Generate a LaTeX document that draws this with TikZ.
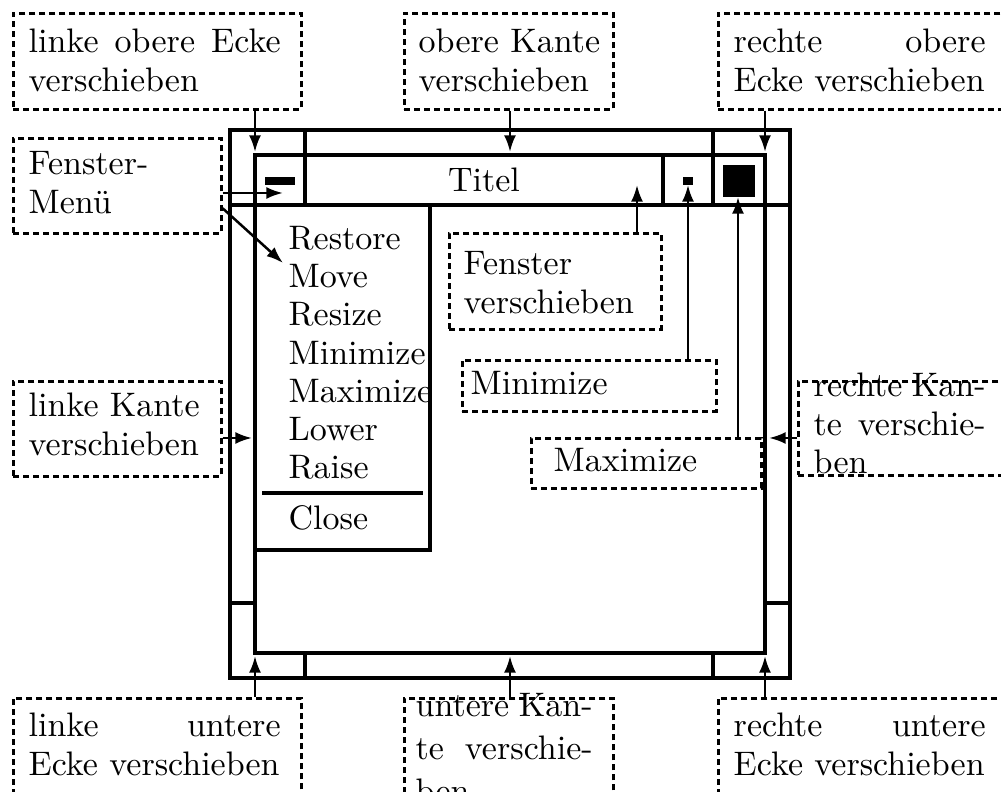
\documentclass[tikz,border=0pt]{standalone}
\usetikzlibrary{arrows.meta}
\newcommand\lblbox[5]{\node[lblbox, minimum width={(#4-#2)*0.3pt}, minimum height={(#5-#3)*0.3pt}] (#1) at (#2,#3) {};}
\begin{document}
\begin{tikzpicture}[x=0.3pt,y=-0.3pt,
  frame/.style={line width=0.95pt},
  lblbox/.style={draw, line width=0.8pt, dash pattern=on 1.8pt off 1.2pt, inner sep=0pt, anchor=north west},
  lbltext/.style={inner sep=0pt, anchor=base west, align=left, font=\fontsize{10.2}{11.5}\selectfont},
  arr/.style={line width=0.75pt, -{Latex[length=5pt,width=3.6pt]}},
]
\useasboundingbox (0,0) rectangle (1001,792);
\clip (0,0) rectangle (1001,792);

% window frame
\draw[frame] (230,130) rectangle (790,678);
\draw[frame] (255,155) rectangle (765,653);
\draw[frame] (230,205) -- (790,205);
\draw[frame] (305,130) -- (305,205);
\draw[frame] (713,130) -- (713,205);
\draw[frame] (663,155) -- (663,205);
\draw[frame] (230,603) -- (255,603) (765,603) -- (790,603);
\draw[frame] (305,653) -- (305,678) (713,653) -- (713,678);
% menu
\draw[frame] (255,205) rectangle (430,550);
\draw[frame] (262,493) -- (423,493);
\fill (265,177) rectangle (295,185);
\fill (683,177) rectangle (693,185);
\fill (723,165) rectangle (755,197);

\node[lbltext, anchor=base] (titel) at (484,192) {Titel};
\foreach \t/\y [count=\i] in {Restore/250,Move/288,Resize/326,Minimize/365,Maximize/403,Lower/441,Raise/479,Close/530}
  \node[lbltext] (m\i) at (288,\y) {\t};

% targets
\coordinate (tTL) at (255,152);
\coordinate (tT) at (510,152);
\coordinate (tTR) at (765,152);
\coordinate (tBL) at (255,656);
\coordinate (tB) at (510,656);
\coordinate (tBR) at (765,656);
\coordinate (tL) at (252,438);
\coordinate (tR) at (769,438);
\coordinate (tMenu) at (283,193);
\coordinate (tMove) at (283,263);
\coordinate (tTitle) at (637,185);
\coordinate (tMin) at (688,185);
\coordinate (tMax) at (738,197);

% label boxes
\lblbox{b1}{12}{12}{300}{108}
\lblbox{b2}{403}{12}{612}{108}
\lblbox{b3}{717}{12}{1005}{108}
\lblbox{bFM}{12}{137}{220}{232}
\lblbox{bFV}{448}{232}{660}{328}
\lblbox{bMin}{461}{359}{715}{410}
\lblbox{bMax}{530}{437}{760}{487}
\lblbox{bLK}{12}{380}{220}{475}
\lblbox{bRK}{797}{380}{1005}{474}
\lblbox{bBL}{12}{697}{300}{800}
\lblbox{bB}{403}{697}{612}{800}
\lblbox{bBR}{717}{697}{1005}{800}

% label texts
\node[lbltext, text width=75.6pt] (t1) at (28,53) {linke\hfill obere\hfill Ecke\\verschieben};
\node[lbltext, text width=56pt] (t2) at (418,53) {obere Kante\\verschieben};
\node[lbltext, text width=75.6pt] (t3) at (733,53) {rechte\hfill obere\\Ecke verschieben};
\node[lbltext, text width=52pt] (tFM) at (28,175) {Fenster-\\Menü};
\node[lbltext, text width=56pt] (tFV) at (463,275) {Fenster\\verschieben};
\node[lbltext] (tMinT) at (470,395) {Minimize};
\node[lbltext] (tMaxT) at (553,472) {Maximize};
\node[lbltext, text width=56pt] (tLK) at (28,417) {linke Kante\\verschieben};
\node[lbltext, text width=51.6pt] (tRK) at (813,397) {rechte\hfill Kan-\\te\hfill verschie-\\ben};
\node[lbltext, text width=75.6pt] (tBL2) at (28,737) {linke\hfill untere\\Ecke verschieben};
\node[lbltext, text width=53.1pt, font=\fontsize{10.2}{12.9}\selectfont] (tB2) at (415,717) {untere\hfill Kan-\\te\hfill verschie-\\ben};
\node[lbltext, text width=75.6pt] (tBR2) at (733,737) {rechte\hfill untere\\Ecke verschieben};

% arrows
\draw[arr] (b1.south -| tTL) -- (tTL);
\draw[arr] (b2.south -| tT) -- (tT);
\draw[arr] (b3.south -| tTR) -- (tTR);
\draw[arr] (bBL.north -| tBL) -- (tBL);
\draw[arr] (bB.north -| tB) -- (tB);
\draw[arr] (bBR.north -| tBR) -- (tBR);
\draw[arr] (bLK.east |- tL) -- (tL);
\draw[arr] (bRK.west |- tR) -- (tR);
\draw[arr] (bFM.east |- tMenu) -- (tMenu);
\draw[arr] ([yshift=-6.75pt]bFM.east) -- (tMove);
\draw[arr] (bFV.north -| tTitle) -- (tTitle);
\draw[arr] (bMin.north -| tMin) -- (tMin);
\draw[arr] (bMax.north -| tMax) -- (tMax);
\end{tikzpicture}
\end{document}
